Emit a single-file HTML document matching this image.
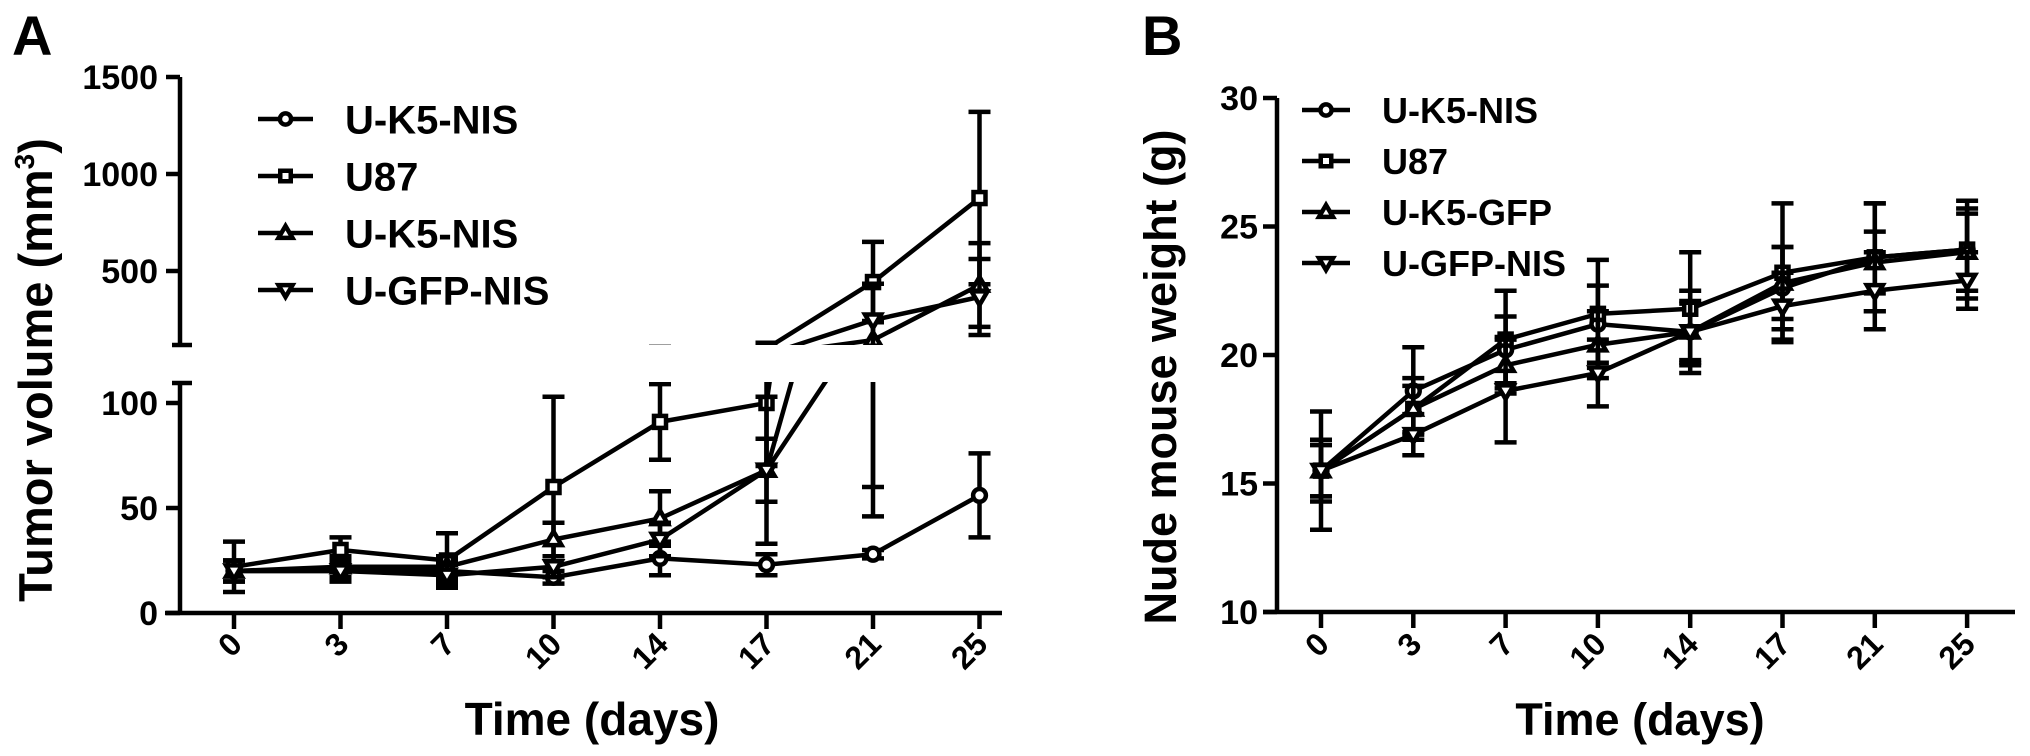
<!DOCTYPE html>
<html><head><meta charset="utf-8">
<style>
html,body{margin:0;padding:0;background:#fff;}
svg{display:block;font-family:"Liberation Sans",Arial,sans-serif;font-weight:bold;}
</style></head>
<body>
<svg id="fig" width="2030" height="756" viewBox="0 0 2030 756" xmlns="http://www.w3.org/2000/svg">
<defs>
<clipPath id="clipUp"><rect x="150" y="40" width="880" height="305"/></clipPath>
<clipPath id="clipLow"><rect x="150" y="382" width="880" height="260"/></clipPath>
</defs>
<text x="12" y="55" font-size="56">A</text>
<text x="1142" y="55" font-size="56">B</text>
<text transform="translate(52,370) rotate(-90)" text-anchor="middle" font-size="47">Tumor volume (mm<tspan font-size="28" dy="-18">3</tspan><tspan dy="18">)</tspan></text>
<text transform="translate(1176,377) rotate(-90)" text-anchor="middle" font-size="45">Nude mouse weight (g)</text>
<text x="592" y="735" text-anchor="middle" font-size="46">Time (days)</text>
<text x="1640" y="735" text-anchor="middle" font-size="45">Time (days)</text>
<g id="gA"></g>
<g id="gB"></g>
</svg>
<script>
const days = ["0","3","7","10","14","17","21","25"];
// Panel A: tumor volume
const aNames = ["U-K5-NIS","U87","U-K5-NIS","U-GFP-NIS"];
const aCircle = [20,20,20,17,26,23,28,56];
const aCircleErr = [5,5,5,3,8,5,2,20];
const aSquare = [22,30,25,60,91,100,443,876];
const aSquareErr = [12,6,13,43,18,30,207,444];
const aTri = [20,22,22,35,45,68,144,428];
const aTriErr = [5,5,5,8,13,15,98,216];
const aInv = [20,20,18,22,35,68,247,366];
const aInvErr = [5,5,5,5,8,35,187,196];
const aUpperTicks = [500,1000,1500];
const aLowerTicks = [0,50,100];
// Panel B: body weight
const bNames = ["U-K5-NIS","U87","U-K5-GFP","U-GFP-NIS"];
const bCircle = [15.5,18.6,20.2,21.2,20.9,22.6,23.8,24.1];
const bCircleErr = [1.2,1.7,1.3,1.5,1.1,1.6,2.1,1.6];
const bSquare = [15.5,17.9,20.6,21.6,21.8,23.2,23.8,24.1];
const bSquareErr = [2.3,1.2,1.9,2.1,2.2,2.7,2.1,1.9];
const bTri = [15.5,17.9,19.6,20.4,20.9,22.8,23.6,24.0];
const bTriErr = [1.0,0.9,1.1,1.3,1.2,1.4,1.2,1.5];
const bInv = [15.5,16.9,18.6,19.3,20.9,21.9,22.5,22.9];
const bInvErr = [1.0,0.8,2.0,1.3,1.6,1.3,1.5,1.1];
const bTicks = [10,15,20,25,30];

const NS="http://www.w3.org/2000/svg";
function mk(tag, attrs, parent){const e=document.createElementNS(NS,tag);for(const k in attrs)e.setAttribute(k,attrs[k]);parent.appendChild(e);return e;}

const axA = i => 234 + i*106.5;
const ayUp = v => 77 + (1500 - v)*0.194;
const ayLow = v => 613 - v*2.1;
const axB = i => 1321 + i*92.3;
const ayB = v => 612 - (v-10)*25.7;

function marker(g, type, x, y, s){
  let el;
  const sw=4.5;
  if(type==="circle"){ el=mk("circle",{cx:x,cy:y,r:s*0.8,fill:"#fff",stroke:"#000","stroke-width":sw},g); }
  else if(type==="square"){ el=mk("rect",{x:x-s*0.75,y:y-s*0.75,width:s*1.5,height:s*1.5,fill:"#fff",stroke:"#000","stroke-width":sw},g); }
  else if(type==="tri"){ el=mk("polygon",{points:`${x},${y-s} ${x-s},${y+s*0.7} ${x+s},${y+s*0.7}`,fill:"#fff",stroke:"#000","stroke-width":sw},g); }
  else { el=mk("polygon",{points:`${x},${y+s} ${x-s},${y-s*0.7} ${x+s},${y-s*0.7}`,fill:"#fff",stroke:"#000","stroke-width":sw},g); }
  return el;
}
function errBar(g, x, yTop, yBot, cap){
  const p=mk("path",{d:`M${x},${yTop}V${yBot}M${x-cap},${yTop}H${x+cap}M${x-cap},${yBot}H${x+cap}`,stroke:"#000","stroke-width":4.5,fill:"none"},g);
  return p;
}
function drawSeries(g, vals, errs, type, xf, yf, name, inRange){
  const sg=mk("g",{},g);
  
  
  vals.forEach((v,i)=>{
    const eb=errBar(sg, xf(i), yf(v+errs[i]), yf(v-errs[i]), 11);
    
    
  });
  const pl=mk("polyline",{points:vals.map((v,i)=>xf(i)+","+yf(v)).join(" "),fill:"none",stroke:"#000","stroke-width":4.5,"stroke-linejoin":"round"},sg);
  
  
  vals.forEach((v,i)=>{
    if(inRange && !inRange(v)) return;
    const m=marker(sg, type, xf(i), yf(v), 8);
    
    
  });
}
function legend(g, names, types, x0, y0, dy, fs, lw){
  names.forEach((n,i)=>{
    const lg=mk("g",{},g);
    
    
    const y=y0+i*dy;
    mk("line",{x1:x0,x2:x0+lw,y1:y,y2:y,stroke:"#000","stroke-width":4.5},lg);
    marker(lg, types[i], x0+lw/2, y, 7);
    const t=mk("text",{x:x0+lw+32,y:y+fs*0.36,"font-size":fs},lg);
    t.textContent=n;
  });
}
const types=["circle","square","tri","inv"];

// ---------- Panel A ----------
const gA=document.getElementById("gA");
const axisA=mk("g",{stroke:"#000","stroke-width":4.5,fill:"none"},gA);


mk("path",{d:`M180,${ayUp(1500)}V345M172,345H192`},axisA);
mk("path",{d:`M172,383H192M180,383V613`},axisA);
aUpperTicks.forEach(v=>{
  mk("line",{x1:166,x2:180,y1:ayUp(v),y2:ayUp(v)},axisA);
  const t=mk("text",{x:158,y:ayUp(v)+12,"text-anchor":"end","font-size":34,stroke:"none",fill:"#000"},gA);
  
  
  t.textContent=v;
});
aLowerTicks.forEach(v=>{
  mk("line",{x1:166,x2:180,y1:ayLow(v),y2:ayLow(v)},axisA);
  const t=mk("text",{x:158,y:ayLow(v)+12,"text-anchor":"end","font-size":34,stroke:"none",fill:"#000"},gA);
  
  
  t.textContent=v;
});
const xaxA=mk("g",{stroke:"#000","stroke-width":4.5,fill:"none"},gA);


mk("line",{x1:165,x2:1002,y1:613,y2:613},xaxA);
days.forEach((d,i)=>{
  mk("line",{x1:axA(i),x2:axA(i),y1:613,y2:629},xaxA);
  const t=mk("text",{transform:`translate(${axA(i)+10},${646}) rotate(-45)`,"text-anchor":"end","font-size":32,fill:"#000"},gA);
  
  
  t.textContent=d;
});
const aVals=[aCircle,aSquare,aTri,aInv], aErrs=[aCircleErr,aSquareErr,aTriErr,aInvErr];
const gUp=mk("g",{"clip-path":"url(#clipUp)"},gA);


const gLow=mk("g",{"clip-path":"url(#clipLow)"},gA);


aVals.forEach((vals,k)=>{
  drawSeries(gLow, vals, aErrs[k], types[k], axA, ayLow, aNames[k].toLowerCase()+'-lower', v=>v<=112);
  drawSeries(gUp, vals, aErrs[k], types[k], axA, ayUp, aNames[k].toLowerCase()+'-upper', v=>v>=118);
});
const legA=mk("g",{},gA);


legend(legA, aNames, types, 258, 119, 57, 40, 55);

// ---------- Panel B ----------
const gB=document.getElementById("gB");
const axisB=mk("g",{stroke:"#000","stroke-width":4.5,fill:"none"},gB);


mk("line",{x1:1277,x2:1277,y1:ayB(30),y2:ayB(10)},axisB);
bTicks.forEach(v=>{
  mk("line",{x1:1263,x2:1277,y1:ayB(v),y2:ayB(v)},axisB);
  const t=mk("text",{x:1258,y:ayB(v)+12,"text-anchor":"end","font-size":34,stroke:"none",fill:"#000"},gB);
  
  
  t.textContent=v;
});
const xaxB=mk("g",{stroke:"#000","stroke-width":4.5,fill:"none"},gB);


mk("line",{x1:1263,x2:2015,y1:612,y2:612},xaxB);
days.forEach((d,i)=>{
  mk("line",{x1:axB(i),x2:axB(i),y1:612,y2:628},xaxB);
  const t=mk("text",{transform:`translate(${axB(i)+10},${646}) rotate(-45)`,"text-anchor":"end","font-size":32,fill:"#000"},gB);
  
  
  t.textContent=d;
});
const bVals=[bCircle,bSquare,bTri,bInv], bErrs=[bCircleErr,bSquareErr,bTriErr,bInvErr];
bVals.forEach((vals,k)=>{
  drawSeries(gB, vals, bErrs[k], types[k], axB, ayB, bNames[k].toLowerCase(), null);
});
const legB=mk("g",{},gB);


legend(legB, bNames, types, 1302, 110, 51, 36, 48);
</script>
</body></html>
